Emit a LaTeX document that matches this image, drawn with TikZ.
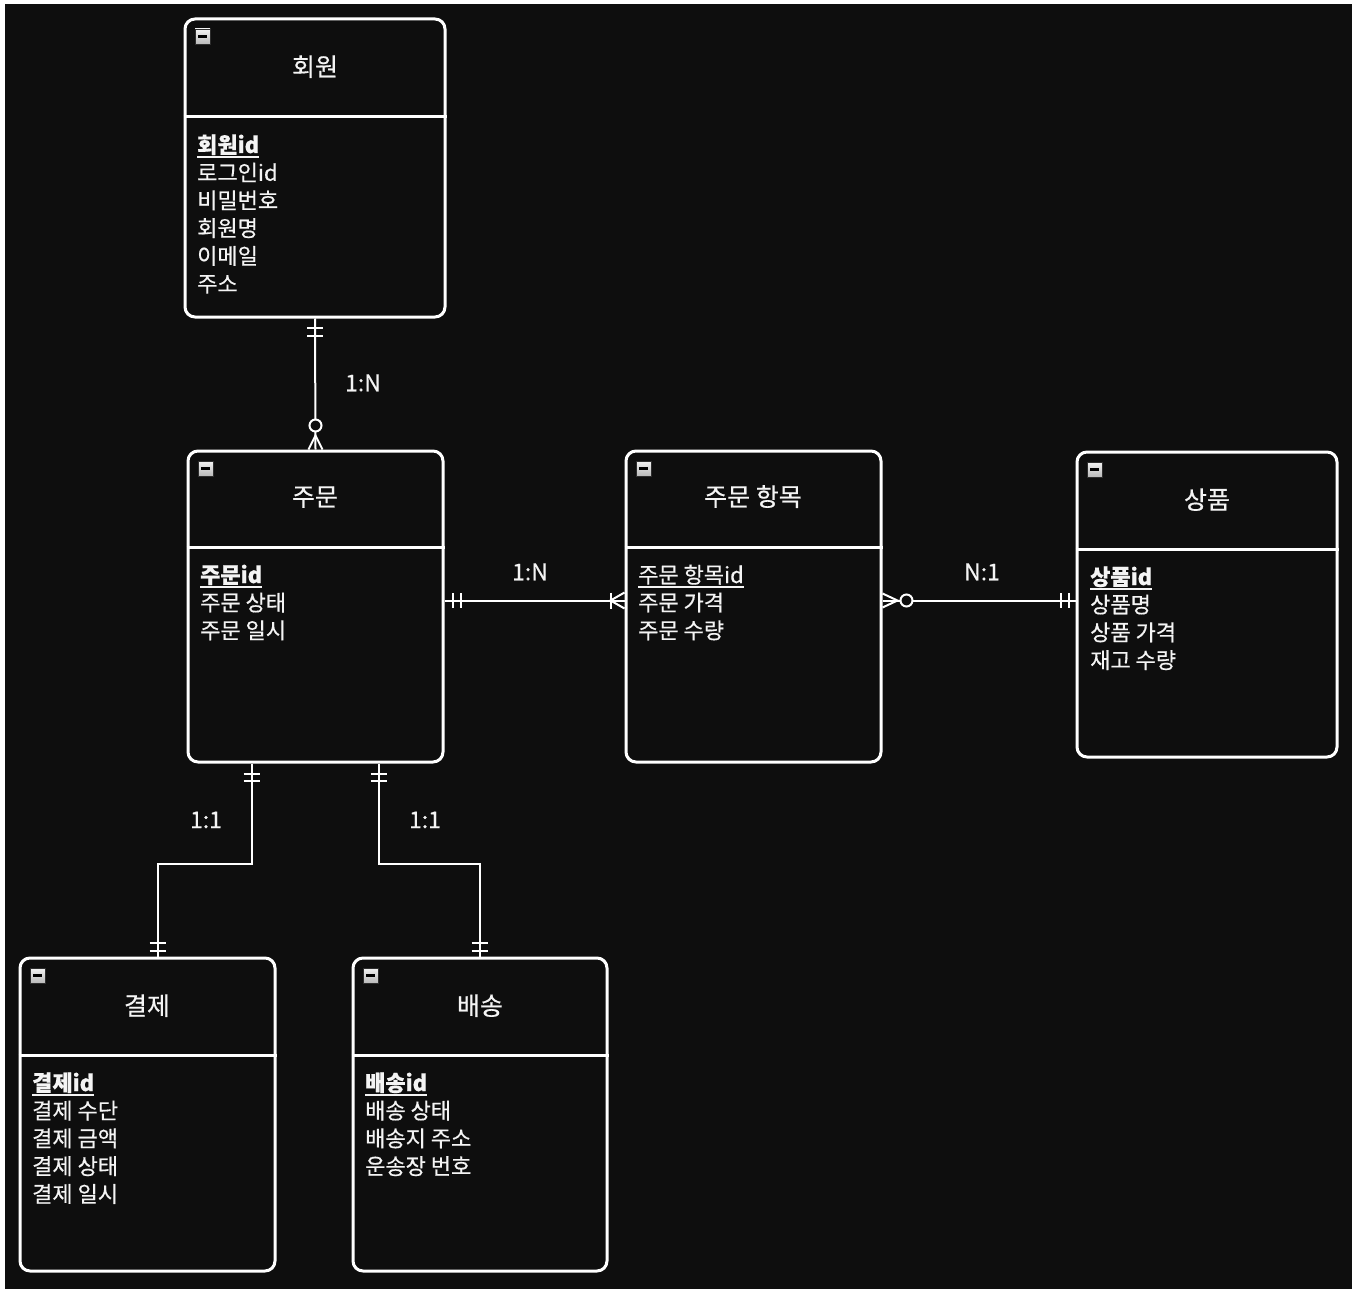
\documentclass[tikz,border=0pt]{standalone}
\usepackage{fontspec}
\setmainfont{Noto Sans CJK KR}[FakeBold=0.5]
\usetikzlibrary{calc}
\definecolor{bg}{HTML}{0E0E0E}
\definecolor{txt}{HTML}{F4F4F4}
\begin{document}
\begin{tikzpicture}[x=1pt,y=-1pt,
  entity/.style={draw=white, line width=3pt, rounded corners=10pt, fill=bg, inner sep=0pt},
  divider/.style={draw=white, line width=3pt},
  title/.style={text=txt, font=\fontsize{25}{28}\selectfont, anchor=base, inner sep=0pt},
  attr/.style={text=txt, font=\fontsize{22}{28}\selectfont, anchor=base west, inner sep=0pt},
  keyline/.style={draw=txt, line width=1.8pt},
  lbl/.style={text=txt, font=\fontsize{23}{24}\selectfont, inner sep=0pt},
  conn/.style={draw=white, line width=2pt},
  tick/.style={draw=white, line width=2pt},
  icon/.style={draw=gray!35!black, line width=0.9pt, top color=gray!10, bottom color=gray!55, minimum size=15pt, inner sep=0pt},
  minus/.style={draw=black, line width=2.2pt}]
\useasboundingbox (0,0) rectangle (1359,1289);
\fill[white] (0,0) rectangle (1359,1289);
\fill[bg] (5,4) rectangle (1352,1289);

% ---------- 회원 ----------
\node[entity, minimum width=260pt, minimum height=298pt] (hw) at (315,168) {};
\draw[divider] (hw.west |- 0,117) -- (hw.east |- 0,117);
\node[icon] (hw-i) at ($(hw.north west)+(19,19)$) {};
\draw[minus] ($(hw-i.center)+(-4.5,0)$) -- ($(hw-i.center)+(4.5,0)$);
\node[title] (hw-t) at (315,76) {회원};
\node[attr] (hw-k) at (197,153) {\textbf{회원id}};
\draw[keyline] ($(hw-k.base west)+(0,4)$) -- ($(hw-k.base east)+(0,4)$);
\foreach \t [count=\i] in {로그인id, 비밀번호, 회원명, 이메일, 주소}
  \node[attr] (hw-a\i) at (197,{153+27.8*\i}) {\t};

% ---------- 주문 ----------
\node[entity, minimum width=255pt, minimum height=311pt] (ju) at (315.5,606.5) {};
\draw[divider] (ju.west |- 0,547) -- (ju.east |- 0,547);
\node[icon] (ju-i) at ($(ju.north west)+(19,19)$) {};
\draw[minus] ($(ju-i.center)+(-4.5,0)$) -- ($(ju-i.center)+(4.5,0)$);
\node[title] (ju-t) at (315,506) {주문};
\node[attr] (ju-k) at (200,583) {\textbf{주문id}};
\draw[keyline] ($(ju-k.base west)+(0,4)$) -- ($(ju-k.base east)+(0,4)$);
\foreach \t [count=\i] in {주문 상태, 주문 일시}
  \node[attr] (ju-a\i) at (200,{583+27.8*\i}) {\t};

% ---------- 주문 항목 ----------
\node[entity, minimum width=255pt, minimum height=311pt] (jh) at (753.5,606.5) {};
\draw[divider] (jh.west |- 0,547) -- (jh.east |- 0,547);
\node[icon] (jh-i) at ($(jh.north west)+(19,19)$) {};
\draw[minus] ($(jh-i.center)+(-4.5,0)$) -- ($(jh-i.center)+(4.5,0)$);
\node[title] (jh-t) at (753,506) {주문 항목};
\node[attr] (jh-k) at (638,583) {주문 항목id};
\draw[keyline] ($(jh-k.base west)+(0,4)$) -- ($(jh-k.base east)+(0,4)$);
\foreach \t [count=\i] in {주문 가격, 주문 수량}
  \node[attr] (jh-a\i) at (638,{583+27.8*\i}) {\t};

% ---------- 상품 ----------
\node[entity, minimum width=260pt, minimum height=305pt] (sp) at (1207,604.5) {};
\draw[divider] (sp.west |- 0,549) -- (sp.east |- 0,549);
\node[icon] (sp-i) at ($(sp.north west)+(19,19)$) {};
\draw[minus] ($(sp-i.center)+(-4.5,0)$) -- ($(sp-i.center)+(4.5,0)$);
\node[title] (sp-t) at (1207,509) {상품};
\node[attr] (sp-k) at (1090,585) {\textbf{상품id}};
\draw[keyline] ($(sp-k.base west)+(0,4)$) -- ($(sp-k.base east)+(0,4)$);
\foreach \t [count=\i] in {상품명, 상품 가격, 재고 수량}
  \node[attr] (sp-a\i) at (1090,{585+27.8*\i}) {\t};

% ---------- 결제 ----------
\node[entity, minimum width=255pt, minimum height=313pt] (gj) at (147.5,1114.5) {};
\draw[divider] (gj.west |- 0,1055) -- (gj.east |- 0,1055);
\node[icon] (gj-i) at ($(gj.north west)+(19,19)$) {};
\draw[minus] ($(gj-i.center)+(-4.5,0)$) -- ($(gj-i.center)+(4.5,0)$);
\node[title] (gj-t) at (147,1015) {결제};
\node[attr] (gj-k) at (32,1091) {\textbf{결제id}};
\draw[keyline] ($(gj-k.base west)+(0,4)$) -- ($(gj-k.base east)+(0,4)$);
\foreach \t [count=\i] in {결제 수단, 결제 금액, 결제 상태, 결제 일시}
  \node[attr] (gj-a\i) at (32,{1091+27.8*\i}) {\t};

% ---------- 배송 ----------
\node[entity, minimum width=254pt, minimum height=313pt] (bs) at (480,1114.5) {};
\draw[divider] (bs.west |- 0,1055) -- (bs.east |- 0,1055);
\node[icon] (bs-i) at ($(bs.north west)+(19,19)$) {};
\draw[minus] ($(bs-i.center)+(-4.5,0)$) -- ($(bs-i.center)+(4.5,0)$);
\node[title] (bs-t) at (480,1015) {배송};
\node[attr] (bs-k) at (365,1091) {\textbf{배송id}};
\draw[keyline] ($(bs-k.base west)+(0,4)$) -- ($(bs-k.base east)+(0,4)$);
\foreach \t [count=\i] in {배송 상태, 배송지 주소, 운송장 번호}
  \node[attr] (bs-a\i) at (365,{1091+27.8*\i}) {\t};

% ---------- 회원 -> 주문 (1:N) ----------
\draw[conn] (hw.south) -- (ju.north);
\draw[tick] ($(hw.south)+(-8,9)$) -- ++(16,0);
\draw[tick] ($(hw.south)+(-8,17)$) -- ++(16,0);
\draw[tick] ($(ju.north)+(-7,0)$) -- ($(ju.north)+(0,-14)$) -- ($(ju.north)+(7,0)$);
\draw[tick, fill=bg] ($(ju.north)+(0,-24)$) circle (6pt);
\node[lbl] (l1) at (363,383) {1:N};

% ---------- 주문 -> 주문 항목 (1:N) ----------
\coordinate (c2a) at ($(ju.north east)+(0,151)$);
\coordinate (c2b) at ($(jh.north west)+(0,151)$);
\draw[conn] (c2a) -- (c2b);
\draw[tick] ($(c2a)+(8,-7.5)$) -- ++(0,15);
\draw[tick] ($(c2a)+(16,-7.5)$) -- ++(0,15);
\draw[tick] ($(c2b)+(-14,-8)$) -- ++(0,16);
\draw[tick] ($(c2b)+(0,-8)$) -- ($(c2b)+(-14,0)$) -- ($(c2b)+(0,8)$);
\node[lbl] (l2) at (530,572) {1:N};

% ---------- 주문 항목 -> 상품 (N:1) ----------
\coordinate (c3a) at ($(jh.north east)+(0,151)$);
\coordinate (c3b) at ($(sp.north west)+(0,150)$);
\draw[conn] (c3a) -- (c3b);
\draw[tick] ($(c3a)+(0,-7)$) -- ($(c3a)+(15,0)$) -- ($(c3a)+(0,7)$);
\draw[tick, fill=bg] ($(c3a)+(24,0)$) circle (6pt);
\draw[tick] ($(c3b)+(-15,-7.5)$) -- ++(0,15);
\draw[tick] ($(c3b)+(-7,-7.5)$) -- ++(0,15);
\node[lbl] (l3) at (982,572) {N:1};

% ---------- 주문 -> 결제 (1:1) ----------
\coordinate (c4a) at ($(ju.south west)+(65,0)$);
\coordinate (c4b) at ($(gj.north west)+(139,0)$);
\draw[conn] (c4a) -- ++(0,100) -| (c4b);
\draw[tick] ($(c4a)+(-8,10)$) -- ++(16,0);
\draw[tick] ($(c4a)+(-8,17)$) -- ++(16,0);
\draw[tick] ($(c4b)+(-8,-14)$) -- ++(16,0);
\draw[tick] ($(c4b)+(-8,-6)$) -- ++(16,0);
\node[lbl] (l4) at (206,820) {1:1};

% ---------- 주문 -> 배송 (1:1) ----------
\coordinate (c5a) at ($(ju.south west)+(192,0)$);
\coordinate (c5b) at ($(bs.north west)+(128,0)$);
\draw[conn] (c5a) -- ++(0,100) -| (c5b);
\draw[tick] ($(c5a)+(-8,10)$) -- ++(16,0);
\draw[tick] ($(c5a)+(-8,17)$) -- ++(16,0);
\draw[tick] ($(c5b)+(-8,-14)$) -- ++(16,0);
\draw[tick] ($(c5b)+(-8,-6)$) -- ++(16,0);
\node[lbl] (l5) at (425,820) {1:1};
\end{tikzpicture}
\end{document}
